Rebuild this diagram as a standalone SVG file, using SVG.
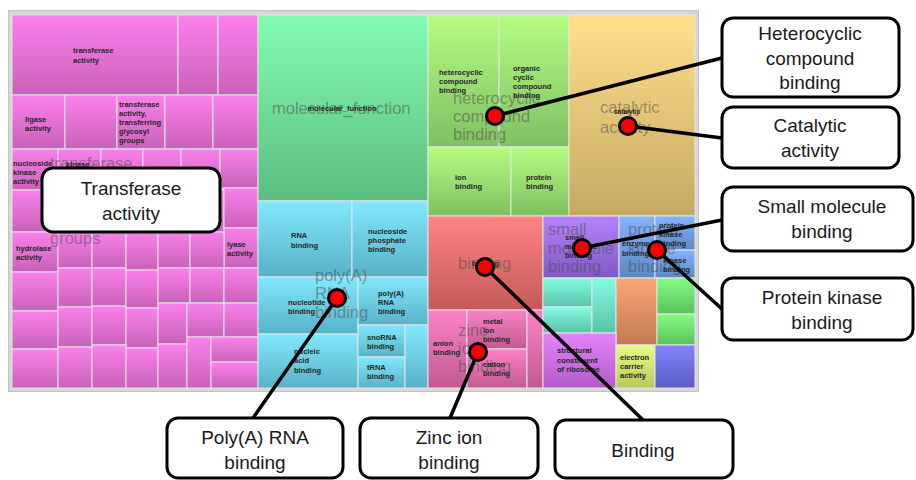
<svg xmlns="http://www.w3.org/2000/svg" width="916" height="480" viewBox="0 0 916 480">
<defs>
  <!-- per-cell vertical shading: light top, darker bottom -->
  <linearGradient id="gPk" x1="0" y1="0" x2="0" y2="1"><stop offset="0" stop-color="#fb80ec"/><stop offset="1" stop-color="#c862b8"/></linearGradient>
  <linearGradient id="gMf" x1="0" y1="0" x2="0" y2="1"><stop offset="0" stop-color="#82fbb2"/><stop offset="1" stop-color="#5cbd80"/></linearGradient>
  <linearGradient id="gCy" x1="0" y1="0" x2="0" y2="1"><stop offset="0" stop-color="#82e8fc"/><stop offset="1" stop-color="#58b2c6"/></linearGradient>
  <linearGradient id="gLm" x1="0" y1="0" x2="0" y2="1"><stop offset="0" stop-color="#b4fc82"/><stop offset="1" stop-color="#80c062"/></linearGradient>
  <linearGradient id="gYe" x1="0" y1="0" x2="0" y2="1"><stop offset="0" stop-color="#ffe08c"/><stop offset="1" stop-color="#c6a862"/></linearGradient>
  <linearGradient id="gRd" x1="0" y1="0" x2="0" y2="1"><stop offset="0" stop-color="#ff8482"/><stop offset="1" stop-color="#c45a5a"/></linearGradient>
  <linearGradient id="gZn" x1="0" y1="0" x2="0" y2="1"><stop offset="0" stop-color="#fc82c4"/><stop offset="1" stop-color="#c25a92"/></linearGradient>
  <linearGradient id="gPu" x1="0" y1="0" x2="0" y2="1"><stop offset="0" stop-color="#b484fc"/><stop offset="1" stop-color="#8058c4"/></linearGradient>
  <linearGradient id="gBl" x1="0" y1="0" x2="0" y2="1"><stop offset="0" stop-color="#84b4fc"/><stop offset="1" stop-color="#5a88c6"/></linearGradient>
  <linearGradient id="gTl" x1="0" y1="0" x2="0" y2="1"><stop offset="0" stop-color="#84fce2"/><stop offset="1" stop-color="#5ac2aa"/></linearGradient>
  <linearGradient id="gOr" x1="0" y1="0" x2="0" y2="1"><stop offset="0" stop-color="#fca676"/><stop offset="1" stop-color="#c27a52"/></linearGradient>
  <linearGradient id="gGr" x1="0" y1="0" x2="0" y2="1"><stop offset="0" stop-color="#84fc84"/><stop offset="1" stop-color="#5ac25a"/></linearGradient>
  <linearGradient id="gVi" x1="0" y1="0" x2="0" y2="1"><stop offset="0" stop-color="#e484fc"/><stop offset="1" stop-color="#b25ac8"/></linearGradient>
  <linearGradient id="gEc" x1="0" y1="0" x2="0" y2="1"><stop offset="0" stop-color="#eafc84"/><stop offset="1" stop-color="#bac85a"/></linearGradient>
  <linearGradient id="gIn" x1="0" y1="0" x2="0" y2="1"><stop offset="0" stop-color="#8484fc"/><stop offset="1" stop-color="#5a5ac6"/></linearGradient>
  <style>
    .c { stroke: #e4e4e4; stroke-width: 1; }
    .pk { fill: url(#gPk); } .mf { fill: url(#gMf); } .cy { fill: url(#gCy); }
    .lm { fill: url(#gLm); } .ye { fill: url(#gYe); } .rd { fill: url(#gRd); }
    .zn { fill: url(#gZn); } .pu { fill: url(#gPu); } .bl { fill: url(#gBl); }
    .tl { fill: url(#gTl); } .or { fill: url(#gOr); } .gr { fill: url(#gGr); }
    .vi { fill: url(#gVi); } .ec { fill: url(#gEc); } .in { fill: url(#gIn); }
    .big { font-family: "Liberation Sans", Arial, sans-serif; font-size: 16.5px; fill: #4a4a4a; fill-opacity: 0.5; }
    .sm { font-family: "Liberation Sans", Arial, sans-serif; font-size: 7.5px; font-weight: bold; fill: #262626; }
    .box { fill: #ffffff; stroke: #000000; stroke-width: 3; }
    .cl { font-family: "Liberation Sans", Arial, sans-serif; font-size: 19px; fill: #1a1a1a; text-anchor: middle; }
    .ln { stroke: #000000; stroke-width: 3.5; fill: none; stroke-linecap: round; }
    .dot { fill: #ff0000; stroke: #000000; stroke-width: 3; }
  </style>
</defs>

<rect width="916" height="480" fill="#ffffff"/>

<!-- treemap -->
<g id="treemap">
  <rect x="8.5" y="10.5" width="690" height="381" fill="#d6d6d6" stroke="#c4c4c4" stroke-width="1"/>

  <!-- transferase activity block -->
  <g class="c pk">
    <rect x="12" y="15" width="166" height="80"/><rect x="178" y="15" width="40" height="80"/><rect x="218" y="15" width="40" height="80"/>
    <rect x="12" y="95" width="53" height="54"/><rect x="65" y="95" width="52" height="54"/><rect x="117" y="95" width="48" height="54"/><rect x="165" y="95" width="48" height="54"/><rect x="213" y="95" width="45" height="54"/>
    <rect x="12" y="149" width="46" height="41"/><rect x="58" y="149" width="43" height="41"/><rect x="101" y="149" width="42" height="41"/><rect x="143" y="149" width="38" height="41"/><rect x="181" y="149" width="39" height="41"/><rect x="220" y="149" width="38" height="39"/>
    <rect x="12" y="190" width="46" height="42"/><rect x="58" y="190" width="43" height="42"/><rect x="101" y="190" width="42" height="42"/><rect x="143" y="190" width="38" height="42"/><rect x="181" y="190" width="43" height="42"/>
    <rect x="224" y="188" width="34" height="40"/><rect x="224" y="228" width="34" height="40"/>
    <rect x="12" y="232" width="46" height="40"/><rect x="58" y="232" width="34" height="36"/><rect x="92" y="232" width="34" height="36"/><rect x="126" y="232" width="32" height="38"/><rect x="158" y="232" width="32" height="36"/><rect x="190" y="232" width="34" height="36"/>
    <rect x="12" y="272" width="46" height="39"/><rect x="12" y="311" width="46" height="38"/><rect x="12" y="349" width="46" height="39"/>
    <rect x="58" y="268" width="34" height="39"/><rect x="58" y="307" width="34" height="40"/><rect x="58" y="347" width="34" height="41"/>
    <rect x="92" y="268" width="34" height="38"/><rect x="92" y="306" width="34" height="39"/><rect x="92" y="345" width="34" height="43"/>
    <rect x="126" y="270" width="32" height="38"/><rect x="126" y="308" width="32" height="40"/><rect x="126" y="348" width="32" height="40"/>
    <rect x="158" y="268" width="32" height="35"/><rect x="158" y="303" width="29" height="41"/><rect x="158" y="344" width="29" height="44"/>
    <rect x="190" y="268" width="34" height="35"/><rect x="187" y="303" width="37" height="34"/>
    <rect x="224" y="268" width="34" height="35"/><rect x="224" y="303" width="34" height="34"/>
    <rect x="187" y="337" width="24" height="51"/><rect x="211" y="337" width="47" height="25"/><rect x="211" y="362" width="47" height="26"/>
  </g>

  <!-- molecular_function -->
  <rect class="c mf" x="258" y="15" width="170" height="186"/>

  <!-- poly(A) RNA binding block -->
  <g class="c cy">
    <rect x="258" y="201" width="94" height="76"/><rect x="352" y="201" width="76" height="76"/>
    <rect x="258" y="277" width="100" height="57"/><rect x="358" y="277" width="70" height="48"/>
    <rect x="258" y="334" width="100" height="54"/>
    <rect x="358" y="325" width="47" height="32"/><rect x="358" y="357" width="47" height="31"/><rect x="405" y="325" width="23" height="63"/>
  </g>

  <!-- heterocyclic compound binding block -->
  <g class="c lm">
    <rect x="428" y="15" width="71" height="132"/><rect x="499" y="15" width="70" height="132"/>
    <rect x="428" y="147" width="83" height="69"/><rect x="511" y="147" width="58" height="69"/>
  </g>

  <!-- catalytic activity -->
  <rect class="c ye" x="569" y="15" width="126" height="201"/>

  <!-- binding -->
  <rect class="c rd" x="428" y="216" width="115" height="94"/>

  <!-- zinc ion binding block -->
  <g class="c zn">
    <rect x="428" y="310" width="39" height="78"/><rect x="467" y="310" width="60" height="39"/><rect x="467" y="349" width="60" height="39"/><rect x="527" y="310" width="16" height="78"/>
  </g>

  <!-- small molecule / protein kinase binding -->
  <rect class="c pu" x="543" y="216" width="76" height="62"/>
  <g class="c bl">
    <rect x="619" y="216" width="36" height="62"/><rect x="655" y="216" width="40" height="34"/><rect x="655" y="250" width="40" height="28"/>
  </g>

  <!-- remaining small terms -->
  <g class="c">
    <rect class="tl" x="543" y="278" width="49" height="29"/><rect class="tl" x="543" y="307" width="49" height="26"/><rect class="tl" x="592" y="278" width="24" height="55"/>
    <rect class="or" x="616" y="278" width="41" height="67"/>
    <rect class="gr" x="657" y="278" width="38" height="36"/><rect class="gr" x="657" y="314" width="38" height="31"/>
    <rect class="vi" x="543" y="333" width="73" height="55"/>
    <rect class="ec" x="616" y="345" width="39" height="43"/>
    <rect class="in" x="655" y="345" width="40" height="43"/>
  </g>

  <!-- group headings (faded) -->
  <text class="big" x="50" y="169">transferase</text>
  <text class="big" x="50" y="244">groups</text>
  <text class="big" x="272" y="114">molecular_function</text>
  <text class="big" x="315" y="281">poly(A)</text>
  <text class="big" x="315" y="299">RNA</text>
  <text class="big" x="315" y="318">binding</text>
  <text class="big" x="453" y="104">heterocyclic</text>
  <text class="big" x="453" y="122">compound</text>
  <text class="big" x="453" y="140">binding</text>
  <text class="big" x="600" y="113">catalytic</text>
  <text class="big" x="600" y="133">activity</text>
  <text class="big" x="458" y="269">binding</text>
  <text class="big" x="458" y="336">zinc</text>
  <text class="big" x="458" y="354">ion</text>
  <text class="big" x="458" y="372">binding</text>
  <text class="big" x="548" y="235">small</text>
  <text class="big" x="548" y="254">molecule</text>
  <text class="big" x="548" y="272">binding</text>
  <text class="big" x="628" y="235">protein</text>
  <text class="big" x="628" y="254">kinase</text>
  <text class="big" x="628" y="272">binding</text>

  <!-- term labels -->
  <text class="sm" x="73" y="53">transferase</text>
  <text class="sm" x="73" y="63">activity</text>
  <text class="sm" x="25" y="122">ligase</text>
  <text class="sm" x="25" y="131">activity</text>
  <text class="sm" x="119" y="107">transferase</text>
  <text class="sm" x="119" y="116">activity,</text>
  <text class="sm" x="119" y="125">transferring</text>
  <text class="sm" x="119" y="134">glycosyl</text>
  <text class="sm" x="119" y="143">groups</text>
  <text class="sm" x="13" y="166">nucleoside</text>
  <text class="sm" x="13" y="175">kinase</text>
  <text class="sm" x="13" y="184">activity</text>
  <text class="sm" x="66" y="167">kinase</text>
  <text class="sm" x="16" y="251">hydrolase</text>
  <text class="sm" x="16" y="260">activity</text>
  <text class="sm" x="227" y="247">lyase</text>
  <text class="sm" x="227" y="256">activity</text>
  <text class="sm" x="342" y="111" text-anchor="middle">molecular_function</text>
  <text class="sm" x="291" y="238">RNA</text>
  <text class="sm" x="291" y="248">binding</text>
  <text class="sm" x="368" y="234">nucleoside</text>
  <text class="sm" x="368" y="243">phosphate</text>
  <text class="sm" x="368" y="252">binding</text>
  <text class="sm" x="288" y="305">nucleotide</text>
  <text class="sm" x="288" y="314">binding</text>
  <text class="sm" x="378" y="296">poly(A)</text>
  <text class="sm" x="378" y="305">RNA</text>
  <text class="sm" x="378" y="314">binding</text>
  <text class="sm" x="294" y="354">nucleic</text>
  <text class="sm" x="294" y="363">acid</text>
  <text class="sm" x="294" y="373">binding</text>
  <text class="sm" x="367" y="340">snoRNA</text>
  <text class="sm" x="367" y="349">binding</text>
  <text class="sm" x="367" y="370">tRNA</text>
  <text class="sm" x="367" y="379">binding</text>
  <text class="sm" x="439" y="75">heterocyclic</text>
  <text class="sm" x="439" y="84">compound</text>
  <text class="sm" x="439" y="93">binding</text>
  <text class="sm" x="513" y="71">organic</text>
  <text class="sm" x="513" y="80">cyclic</text>
  <text class="sm" x="513" y="89">compound</text>
  <text class="sm" x="513" y="98">binding</text>
  <text class="sm" x="455" y="180">ion</text>
  <text class="sm" x="455" y="189">binding</text>
  <text class="sm" x="526" y="180">protein</text>
  <text class="sm" x="526" y="189">binding</text>
  <text class="sm" x="614" y="114" style="font-size:6.5px">catalytic</text>
  <text class="sm" x="472" y="266">binding</text>
  <text class="sm" x="433" y="346">anion</text>
  <text class="sm" x="433" y="355">binding</text>
  <text class="sm" x="483" y="324">metal</text>
  <text class="sm" x="483" y="333">ion</text>
  <text class="sm" x="483" y="342">binding</text>
  <text class="sm" x="483" y="367">cation</text>
  <text class="sm" x="483" y="376">binding</text>
  <text class="sm" x="565" y="240">small</text>
  <text class="sm" x="565" y="249">molecule</text>
  <text class="sm" x="565" y="258">binding</text>
  <text class="sm" x="622" y="246">enzyme</text>
  <text class="sm" x="622" y="256">binding</text>
  <text class="sm" x="659" y="228">protein</text>
  <text class="sm" x="659" y="237">kinase</text>
  <text class="sm" x="659" y="246">binding</text>
  <text class="sm" x="663" y="263">kinase</text>
  <text class="sm" x="663" y="272">binding</text>
  <text class="sm" x="557" y="353">structural</text>
  <text class="sm" x="557" y="363">constituent</text>
  <text class="sm" x="557" y="372">of ribosome</text>
  <text class="sm" x="620" y="360">electron</text>
  <text class="sm" x="620" y="369">carrier</text>
  <text class="sm" x="620" y="378">activity</text>
</g>

<!-- connectors from terms to callouts -->
<g id="connectors">
  <line class="ln" x1="495" y1="116" x2="722" y2="58"/>
  <line class="ln" x1="628" y1="126" x2="722" y2="138"/>
  <line class="ln" x1="582" y1="248" x2="722" y2="220"/>
  <line class="ln" x1="657" y1="250" x2="722" y2="309"/>
  <line class="ln" x1="485" y1="267" x2="643" y2="420"/>
  <line class="ln" x1="478" y1="352" x2="450" y2="418"/>
  <line class="ln" x1="337" y1="298" x2="253" y2="418"/>
  <circle class="dot" cx="495" cy="116" r="8.5"/>
  <circle class="dot" cx="628" cy="126" r="8.5"/>
  <circle class="dot" cx="582" cy="248" r="8.5"/>
  <circle class="dot" cx="657" cy="250" r="8.5"/>
  <circle class="dot" cx="485" cy="267" r="8.5"/>
  <circle class="dot" cx="478" cy="352" r="8.5"/>
  <circle class="dot" cx="337" cy="298" r="8.5"/>
</g>

<g id="transferase-activity">
  <rect class="box" x="42" y="168" width="178" height="64" rx="11"/>
  <text class="cl" x="131" y="195">Transferase</text>
  <text class="cl" x="131" y="220">activity</text>
</g>
<g id="heterocyclic-compound-binding">
  <rect class="box" x="722" y="18" width="177" height="79" rx="11"/>
  <text class="cl" x="810" y="40">Heterocyclic</text>
  <text class="cl" x="810" y="65">compound</text>
  <text class="cl" x="810" y="89">binding</text>
</g>
<g id="catalytic-activity">
  <rect class="box" x="722" y="107" width="177" height="61" rx="11"/>
  <text class="cl" x="810" y="132">Catalytic</text>
  <text class="cl" x="810" y="157">activity</text>
</g>
<g id="small-molecule-binding">
  <rect class="box" x="722" y="187" width="191" height="64" rx="11"/>
  <text class="cl" x="822" y="213">Small molecule</text>
  <text class="cl" x="822" y="238">binding</text>
</g>
<g id="protein-kinase-binding">
  <rect class="box" x="722" y="278" width="191" height="62" rx="11"/>
  <text class="cl" x="822" y="304">Protein kinase</text>
  <text class="cl" x="822" y="329">binding</text>
</g>
<g id="polya-rna-binding">
  <rect class="box" x="167" y="418" width="176" height="60" rx="11"/>
  <text class="cl" x="255" y="444">Poly(A) RNA</text>
  <text class="cl" x="255" y="469">binding</text>
</g>
<g id="zinc-ion-binding">
  <rect class="box" x="360" y="418" width="178" height="60" rx="11"/>
  <text class="cl" x="449" y="444">Zinc ion</text>
  <text class="cl" x="449" y="469">binding</text>
</g>
<g id="binding">
  <rect class="box" x="555" y="420" width="178" height="58" rx="11"/>
  <text class="cl" x="643" y="457">Binding</text>
</g>
</svg>
